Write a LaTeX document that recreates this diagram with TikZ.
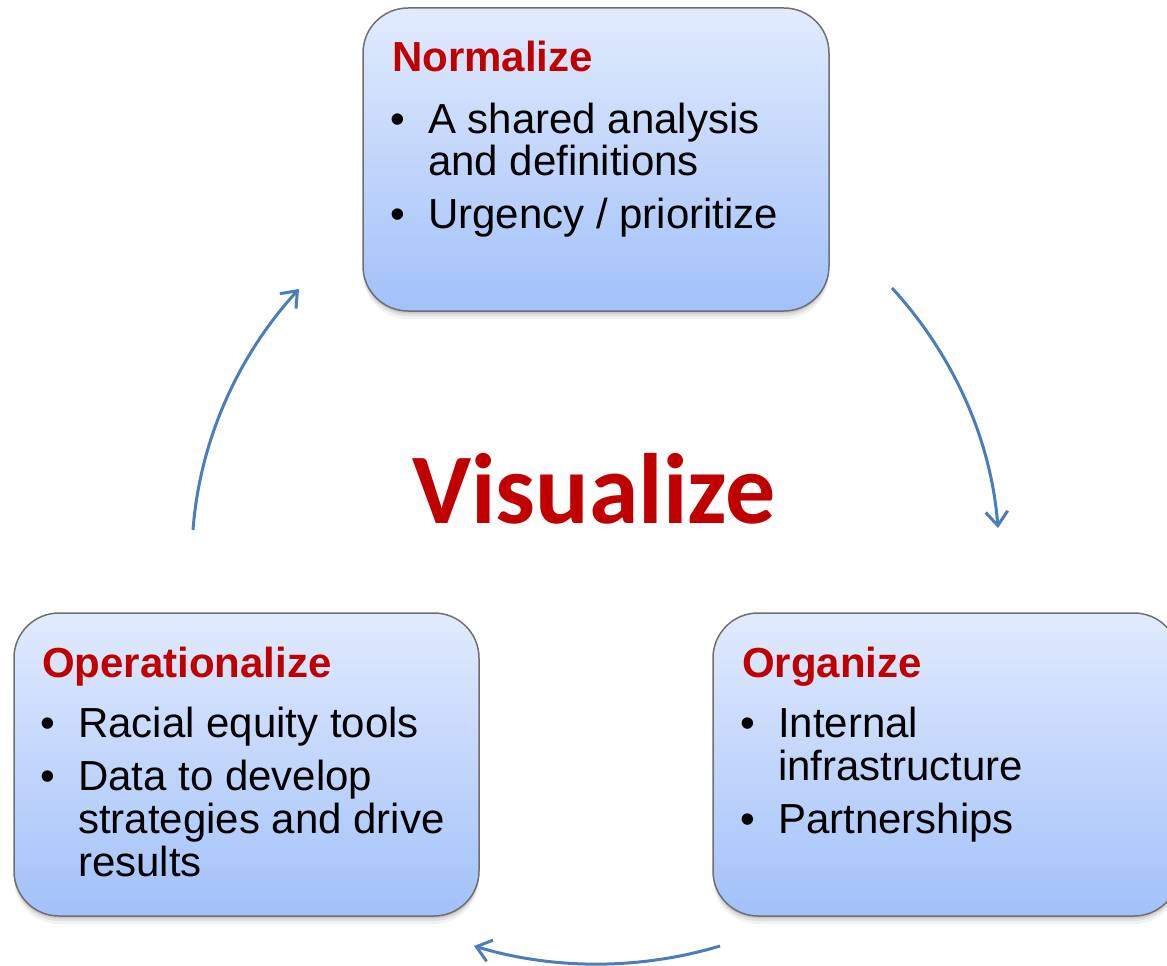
\documentclass[tikz,border=0pt]{standalone}
\usepackage{fontspec}
\setmainfont{Liberation Sans}
\newfontfamily\carlito{Carlito}
\usetikzlibrary{arrows.meta}
\definecolor{titlered}{HTML}{C00000}
\definecolor{boxtop}{HTML}{E1EBFD}
\definecolor{boxbot}{HTML}{A2C1FA}
\definecolor{boxedge}{HTML}{6F6F6F}
\definecolor{arrowblue}{HTML}{4A7EBB}
\tikzset{
  box/.style={draw=boxedge, line width=1.5pt, rounded corners=45pt,
    top color=boxtop, bottom color=boxbot, inner sep=0pt,
    minimum height=303pt,
    preaction={fill=black, fill opacity=0.05, draw=none, transform canvas={yshift=-8pt}},
    preaction={fill=black, fill opacity=0.07, draw=none, transform canvas={yshift=-5pt}},
    preaction={fill=black, fill opacity=0.10, draw=none, transform canvas={yshift=-2.5pt}}},
  boxtitle/.style={anchor=base west, inner sep=0pt, text=titlered,
    font=\fontsize{42}{42}\selectfont\bfseries},
  bodytext/.style={anchor=base west, inner sep=0pt, font=\fontsize{42}{42}\selectfont},
  bulletmark/.style={anchor=base, inner sep=0pt, font=\fontsize{42}{42}\selectfont},
  cyclearrow/.style={draw=arrowblue, line width=3pt,
    -{Straight Barb[length=14pt, width=22pt]}},
}
\begin{document}
\begin{tikzpicture}[x=1pt, y=-1pt]
\useasboundingbox (0,0) rectangle (1167,966);
\clip (0,0) rectangle (1167,966);

% boxes
\node[box, minimum width=466pt] (norm) at (596,159.5) {};
\node[box, minimum width=465pt] (oper) at (246.5,764.5) {};
\node[box, minimum width=466pt] (orga) at (946,764.5) {};

% Normalize
\node[boxtitle] (normT) at (392,71) {Normalize};
\node[bulletmark] (normB1) at (398,133) {•};
\node[bodytext] (normL1) at (428,133) {A shared analysis};
\node[bodytext] (normL2) at (428,175) {and definitions};
\node[bulletmark] (normB2) at (398,228) {•};
\node[bodytext] (normL3) at (428,228) {Urgency / prioritize};

% Operationalize
\node[boxtitle] (operT) at (42,677) {Operationalize};
\node[bulletmark] (operB1) at (48,737) {•};
\node[bodytext] (operL1) at (78,737) {Racial equity tools};
\node[bulletmark] (operB2) at (48,790) {•};
\node[bodytext] (operL2) at (78,790) {Data to develop};
\node[bodytext] (operL3) at (78,833) {strategies and drive};
\node[bodytext] (operL4) at (78,876) {results};

% Organize
\node[boxtitle] (orgaT) at (742,677) {Organize};
\node[bulletmark] (orgaB1) at (748,737) {•};
\node[bodytext] (orgaL1) at (778,737) {Internal};
\node[bodytext] (orgaL2) at (778,780) {infrastructure};
\node[bulletmark] (orgaB2) at (748,833) {•};
\node[bodytext] (orgaL3) at (778,833) {Partnerships};

% centre word
\node[anchor=base, inner sep=0pt, text=titlered,
  font=\carlito\bfseries\fontsize{100}{100}\selectfont] (vis) at (594,523) {Visualize};

% cycle arrows
\coordinate (trS) at (892,288);
\coordinate (trE) at (998,528);
\coordinate (btS) at (720,946);
\coordinate (btE) at (474,946);
\coordinate (lfS) at (193,530);
\coordinate (lfE) at (299,289);
\draw[cyclearrow] (trS) .. controls (952.7,354.3) and (990.9,438.3) .. (trE);
\draw[cyclearrow] (btS) .. controls (640,970) and (554,970) .. (btE);
\draw[cyclearrow] (lfS) .. controls (199.7,440.3) and (238.2,355.3) .. (lfE);
\end{tikzpicture}
\end{document}
